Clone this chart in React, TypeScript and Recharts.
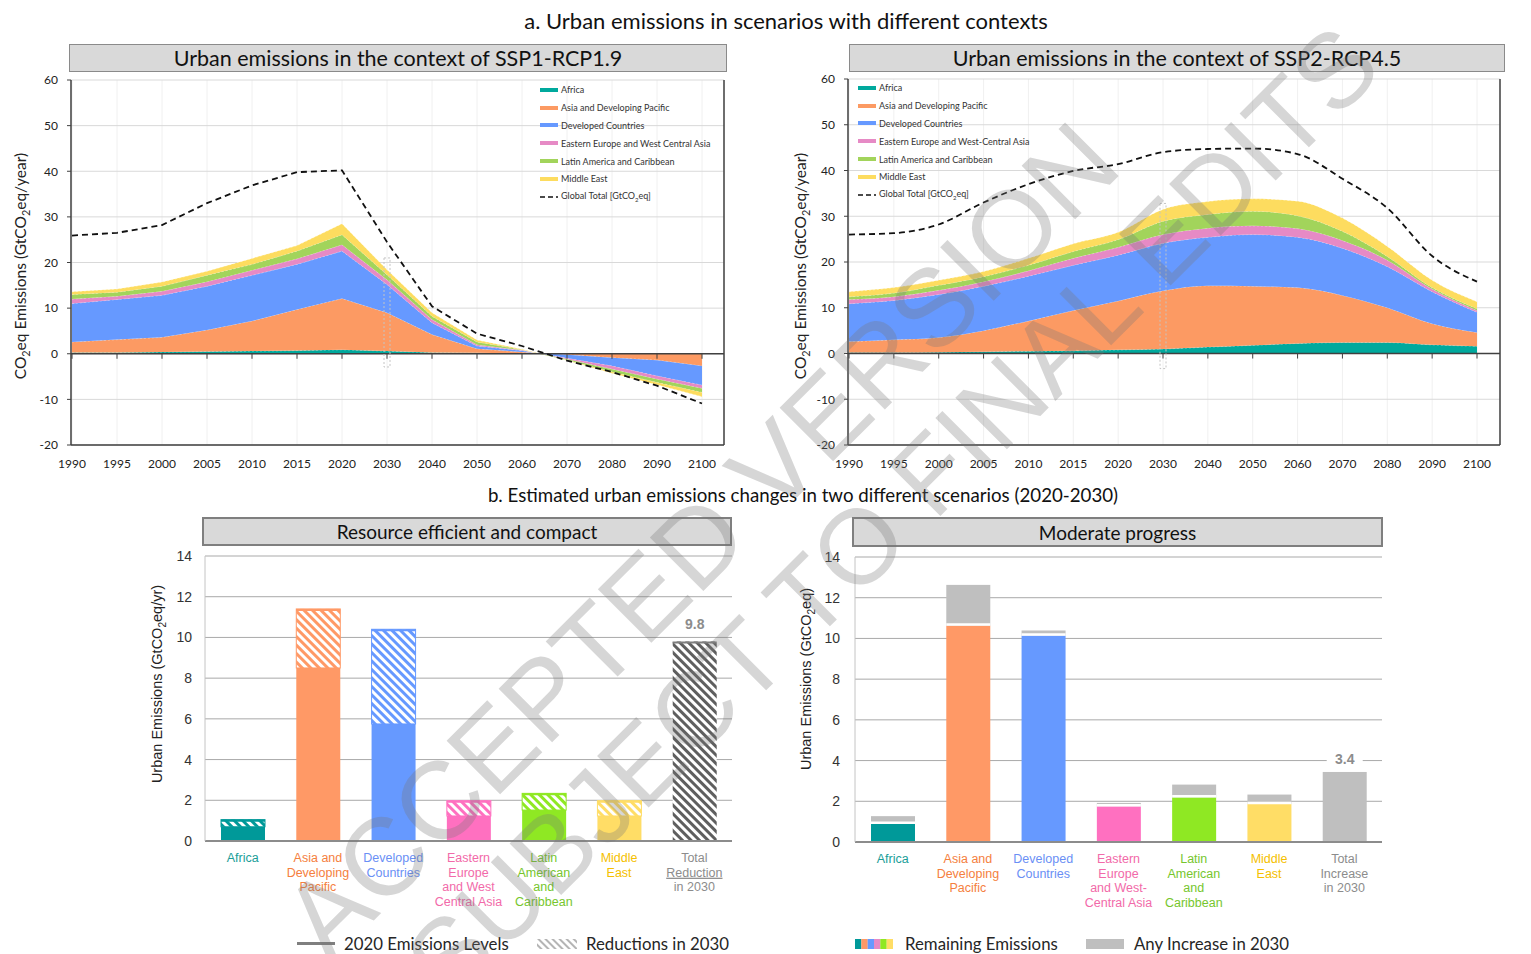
import React from 'react';
import {
  ComposedChart, Area, Line, BarChart, Bar, Cell, LabelList, XAxis, YAxis,
  CartesianGrid, ReferenceLine, Legend,
} from 'recharts';

const CAL = "Lato, 'Open Sans', sans-serif";
const ARIAL = "'Liberation Sans', Arial, sans-serif";

// ---- part a: stacked urban emissions (GtCO2eq/year) ----
const years = ['1990', '1995', '2000', '2005', '2010', '2015', '2020', '2030', '2040', '2050', '2060', '2070', '2080', '2090', '2100'];
const yTicksTop = [-20, -10, 0, 10, 20, 30, 40, 50, 60];

const ssp1Africa = [0.3, 0.3, 0.4, 0.5, 0.6, 0.7, 0.9, 0.6, 0.3, 0.2, 0.1, 0, 0, 0, 0];
const ssp1Asia = [2.3, 2.8, 3.2, 4.7, 6.6, 9.0, 11.2, 8.4, 3.9, 0.9, 0.3, -0.2, -0.9, -1.4, -2.7];
const ssp1Developed = [8.4, 8.8, 9.2, 9.6, 10.0, 9.9, 10.4, 6.2, 2.6, 0.6, 0.3, -0.8, -1.8, -3.5, -4.2];
const ssp1Eastern = [1.0, 0.7, 0.9, 1.0, 1.1, 1.2, 1.4, 1.0, 0.7, 0.3, 0.1, -0.2, -0.7, -0.7, -0.7];
const ssp1Latin = [1.0, 0.9, 1.1, 1.4, 1.3, 1.7, 2.2, 1.1, 0.7, 0.6, 0.1, -0.2, -0.6, -0.7, -0.9];
const ssp1Middle = [0.6, 0.7, 0.9, 0.9, 1.3, 1.2, 2.4, 1.1, 0.8, 0.4, 0.1, -0.1, -0.3, -0.5, -0.9];
const ssp1Global = [25.9, 26.5, 28.2, 33.0, 36.9, 39.8, 40.2, 24.5, 10.4, 4.4, 1.7, -1.5, -4.0, -7.0, -10.9];

const ssp2Africa = [0.2, 0.2, 0.3, 0.4, 0.5, 0.6, 0.8, 1.0, 1.4, 1.8, 2.2, 2.4, 2.4, 1.9, 1.6];
const ssp2Asia = [2.4, 2.8, 3.2, 4.6, 6.6, 8.8, 10.7, 12.7, 13.4, 12.9, 12.2, 10.3, 7.6, 4.6, 3.0];
const ssp2Developed = [8.3, 8.6, 9.4, 9.7, 9.8, 9.9, 10.0, 10.4, 10.6, 11.3, 11.0, 10.3, 9.0, 7.0, 4.4];
const ssp2Eastern = [0.9, 0.8, 0.9, 1.0, 1.2, 1.5, 1.7, 1.9, 2.0, 1.9, 1.9, 1.7, 1.4, 0.6, 0.4];
const ssp2Latin = [0.6, 0.8, 1.1, 1.1, 1.2, 1.5, 1.7, 2.9, 3.0, 3.2, 2.8, 2.0, 0.8, 0.3, 0.4];
const ssp2Middle = [1.1, 1.2, 1.1, 1.1, 1.5, 1.7, 1.6, 2.6, 2.8, 2.7, 3.2, 2.9, 2.2, 1.6, 1.5];
const ssp2Global = [26.0, 26.3, 28.2, 33.0, 37.0, 39.9, 41.4, 44.0, 44.7, 44.8, 43.6, 38.2, 31.8, 21.3, 15.7];

const regionKeys = ['africa', 'asia', 'developed', 'eastern', 'latin', 'middle'];
const areaColors = ['#00a99d', '#fc9a63', '#6699ff', '#e68ac5', '#a2d45b', '#fddc5f'];
const legendNames1 = ['Africa', 'Asia and Developing Pacific', 'Developed Countries', 'Eastern Europe and West Central Asia', 'Latin America and Caribbean', 'Middle East'];
const legendNames2 = ['Africa', 'Asia and Developing Pacific', 'Developed Countries', 'Eastern Europe and West-Central Asia', 'Latin America and Caribbean', 'Middle East'];

// ---- part b: 2020-2030 changes (GtCO2eq) ----
const barCategories = ['Africa', 'Asia', 'Developed', 'Eastern', 'Latin', 'Middle', 'Total'];
const compactRemaining = [0.7, 8.5, 5.75, 1.23, 1.52, 1.23, 0];
const compactReduction = [0.35, 2.9, 4.65, 0.75, 0.82, 0.75, 9.8];
const moderateRemaining = [0.9, 10.63, 10.15, 1.76, 2.2, 1.87, 0];
const moderateIncrease = [0.37, 2.0, 0.24, 0.16, 0.62, 0.46, 3.44];
const barTicks = [0, 2, 4, 6, 8, 10, 12, 14];

const barColors = ['#009999', '#ff9966', '#6699ff', '#ff70c0', '#8fe823', '#ffdd66', '#bfbfbf'];
const labelColors = ['#1a9e98', '#f5803e', '#6a8ff5', '#f26aa9', '#76c62e', '#f5c000', '#8c8c8c'];
const compactLabels = [
  ['Africa'], ['Asia and', 'Developing', 'Pacific'], ['Developed', 'Countries'],
  ['Eastern', 'Europe', 'and West', 'Central Asia'], ['Latin', 'American', 'and', 'Caribbean'],
  ['Middle', 'East'], ['Total', 'Reduction', 'in 2030'],
];
const moderateLabels = [
  ['Africa'], ['Asia and', 'Developing', 'Pacific'], ['Developed', 'Countries'],
  ['Eastern', 'Europe', 'and West-', 'Central Asia'], ['Latin', 'American', 'and', 'Caribbean'],
  ['Middle', 'East'], ['Total', 'Increase', 'in 2030'],
];

const buildAreaData = (series: number[][], global: number[]) =>
  years.map((year, i) => {
    const row: any = { year, global: global[i] };
    regionKeys.forEach((k, j) => { row[k] = series[j][i]; });
    return row;
  });

const ssp1Data = buildAreaData([ssp1Africa, ssp1Asia, ssp1Developed, ssp1Eastern, ssp1Latin, ssp1Middle], ssp1Global);
const ssp2Data = buildAreaData([ssp2Africa, ssp2Asia, ssp2Developed, ssp2Eastern, ssp2Latin, ssp2Middle], ssp2Global);

const compactData = barCategories.map((cat, i) => ({ cat, remaining: compactRemaining[i], change: compactReduction[i] }));
const moderateData = barCategories.map((cat, i) => ({ cat, remaining: moderateRemaining[i], change: moderateIncrease[i] }));

const AreaLegend = ({ names }: { names: string[] }) => (
  <div style={{ fontFamily: CAL, fontSize: 9, color: '#333', width: 200 }}>
    {names.map((n, j) => (
      <div key={n} style={{ height: 17.8, display: 'flex', alignItems: 'center' }}>
        <span style={{ display: 'inline-block', width: 18, height: 4, background: areaColors[j], marginRight: 3 }} />
        <span>{n}</span>
      </div>
    ))}
    <div style={{ height: 17.8, display: 'flex', alignItems: 'center' }}>
      <svg width={18} height={4} style={{ marginRight: 3 }}>
        <line x1={0} x2={18} y1={2} y2={2} stroke="#111" strokeWidth={1.5} strokeDasharray="5 3" />
      </svg>
      <span>Global Total [GtCO<sub style={{ fontSize: 6 }}>2</sub>eq]</span>
    </div>
  </div>
);

const MarkerBox = (p: any) => (
  <rect x={p.x1 - 3} y={Math.min(p.y1, p.y2)} width={6} height={Math.abs(p.y2 - p.y1)}
    fill="none" stroke="#c4c4c4" strokeWidth={1} strokeDasharray="2 2" />
);

type EmissionsProps = {
  data: any[];
  curve: 'linear' | 'monotone';
  names: string[];
  width: number;
  height: number;
  margin: { top: number; right: number; bottom: number; left: number };
  rightAxisWidth: number;
  padRight: number;
  legendLeft: number;
  legendTop: number;
  marker: [number, number];
};

const EmissionsPanel = ({ data, curve, names, width, height, margin, rightAxisWidth, padRight, legendLeft, legendTop, marker }: EmissionsProps) => (
  <ComposedChart width={width} height={height} data={data} margin={margin} stackOffset="sign">
    <CartesianGrid horizontal={false} stroke="#f0f0f0" />
    <CartesianGrid vertical={false} stroke="#d9d9d9" />
    <XAxis dataKey="year" scale="point" interval={0} padding={{ left: 1, right: padRight }}
      tickLine={false} tickSize={6} tickMargin={8} height={27}
      axisLine={{ stroke: '#404040', strokeWidth: 1.5 }}
      tick={{ fontSize: 12, fill: '#222', fontFamily: CAL }} />
    <YAxis domain={[-20, 60]} ticks={yTicksTop} width={50} tickSize={4} tickMargin={9}
      axisLine={{ stroke: '#404040', strokeWidth: 1.5 }} tickLine={{ stroke: '#404040' }}
      tick={{ fontSize: 12, fill: '#222', fontFamily: CAL }} />
    <YAxis yAxisId="r" orientation="right" domain={[-20, 60]} ticks={yTicksTop} width={rightAxisWidth}
      tickSize={4} tickMargin={4} axisLine={{ stroke: '#404040', strokeWidth: 1.5 }} tickLine={{ stroke: '#404040' }}
      tick={{ fontSize: 12, fill: '#d0d0d0', fontFamily: CAL }} />
    {regionKeys.map((k, j) => (
      <Area key={k} type={curve} dataKey={k} stackId="regions" fill={areaColors[j]} fillOpacity={1}
        stroke="#ffffff" strokeOpacity={0.55} strokeWidth={0.8} strokeDasharray="2 2"
        isAnimationActive={false} />
    ))}
    <ReferenceLine y={0} stroke="#404040" strokeWidth={1.5} />
    {years.map((yr) => (
      <ReferenceLine key={yr} segment={[{ x: yr, y: 0 }, { x: yr, y: -1.1 }]} stroke="#404040" />
    ))}
    <ReferenceLine segment={[{ x: '2030', y: marker[0] }, { x: '2030', y: marker[1] }]} shape={MarkerBox} />
    <Line type={curve} dataKey="global" stroke="#111" strokeWidth={1.8} strokeDasharray="6 4"
      dot={false} isAnimationActive={false} />
    <Legend layout="vertical" align="center" verticalAlign="middle"
      wrapperStyle={{ left: legendLeft, top: legendTop, width: 200 }}
      content={() => <AreaLegend names={names} />} />
  </ComposedChart>
);

const HatchBar = (p: any) => {
  const { x, y, width, height } = p;
  if (!height || height <= 0) return <g />;
  const idx = typeof p.index === 'number' ? p.index : barCategories.indexOf(p.payload?.cat);
  const edge = idx === 6 ? '#7f7f7f' : barColors[idx];
  return (
    <g>
      <rect x={x} y={y} width={width} height={height} fill={`url(#hatch${idx})`}
        stroke={idx === 6 ? 'none' : edge} strokeWidth={1} />
      <line x1={x} x2={x + width} y1={y + 1} y2={y + 1} stroke={edge} strokeWidth={2} />
    </g>
  );
};

const IncreaseBar = (p: any) => {
  const { x, y, width, height } = p;
  if (!height || height <= 0) return <g />;
  const idx = typeof p.index === 'number' ? p.index : barCategories.indexOf(p.payload?.cat);
  return (
    <g>
      <rect x={x} y={y} width={width} height={height} fill="#bfbfbf" />
      {idx !== 6 && <line x1={x} x2={x + width} y1={y + height - 1} y2={y + height - 1} stroke="#ffffff" strokeWidth={2.5} />}
    </g>
  );
};

const makeTick = (labels: string[][]) => (p: any) => {
  const idx = barCategories.indexOf(p.payload.value);
  const rows = labels[idx] || [];
  return (
    <text x={p.x} y={p.y + 21} textAnchor="middle" fontSize={12.5} fontFamily={ARIAL} fill={labelColors[idx]}>
      {rows.map((r, j) => (
        <tspan key={j} x={p.x} dy={j === 0 ? 0 : 14.7}
          style={r === 'Reduction' ? { textDecoration: 'underline' } : undefined}>{r}</tspan>
      ))}
    </text>
  );
};

const makeTotalLabel = (offset: number, boxed: boolean) => (p: any) => {
  if (p.index !== 6) return null;
  const cx = p.x + p.width / 2;
  const cy = p.y - offset;
  return (
    <g>
      {boxed && <rect x={cx - 18} y={cy - 9} width={36} height={18} fill="#ffffff" />}
      <text x={cx} y={cy} dy="0.35em" textAnchor="middle" fontSize={14} fontWeight="bold"
        fontFamily={ARIAL} fill="#8c8c8c">{Number(p.value).toFixed(1)}</text>
    </g>
  );
};

type BarPanelProps = {
  data: any[];
  labels: string[][];
  mode: 'reduction' | 'increase';
  tickMargin: number;
};

const BarPanel = ({ data, labels, mode, tickMargin }: BarPanelProps) => (
  <BarChart width={600} height={365} data={data} margin={{ top: 10, right: 8, bottom: 0, left: 20 }}>
    <CartesianGrid vertical={false} stroke="#a9a9a9" />
    <XAxis dataKey="cat" interval={0} tickLine={false} tickSize={0} tickMargin={0} height={70}
      axisLine={{ stroke: '#8c8c8c', strokeWidth: 2 }} tick={makeTick(labels)} />
    <YAxis domain={[0, 14]} ticks={barTicks} width={45} tickLine={false} tickMargin={tickMargin}
      axisLine={{ stroke: '#c4c4c4' }} tick={{ fontSize: 14, fill: '#333', fontFamily: ARIAL }} />
    <YAxis yAxisId="frame" orientation="right" domain={[0, 14]} width={0} tick={false} tickLine={false}
      axisLine={{ stroke: '#c4c4c4' }} />
    <Bar dataKey="remaining" stackId="s" barSize={44} isAnimationActive={false}>
      {data.map((d, i) => <Cell key={d.cat} fill={barColors[i]} />)}
    </Bar>
    <Bar dataKey="change" stackId="s" barSize={44} isAnimationActive={false}
      shape={mode === 'reduction' ? HatchBar : IncreaseBar}>
      <LabelList dataKey="change" content={makeTotalLabel(mode === 'reduction' ? 17 : 13, mode === 'increase')} />
    </Bar>
  </BarChart>
);

const YTitle = ({ cx, cy, size, font, children }: any) => (
  <div style={{
    position: 'absolute', left: cx, top: cy, transform: 'translate(-50%,-50%) rotate(-90deg)',
    whiteSpace: 'nowrap', fontSize: size, fontFamily: font, color: '#222', lineHeight: '18px',
  }}>{children}</div>
);

const HeaderBox = ({ left, top, width, height, size, border, children }: any) => (
  <div style={{
    position: 'absolute', left, top, width, height, boxSizing: 'border-box', background: '#d9d9d9',
    border, display: 'flex', alignItems: 'center', justifyContent: 'center',
    fontSize: size, fontFamily: CAL, color: '#111', whiteSpace: 'nowrap',
  }}>{children}</div>
);

const Sub2 = () => <sub style={{ fontSize: '0.7em', lineHeight: 0 }}>2</sub>;

export default function App() {
  const legendText = { position: 'absolute' as const, fontSize: 16.8, fontFamily: CAL, color: '#262626', lineHeight: '20px', whiteSpace: 'nowrap' as const };
  return (
    <div style={{ position: 'absolute', left: 0, top: 0, width: 1531, height: 954, background: '#fff', overflow: 'hidden', fontFamily: CAL }}>
      <svg width={0} height={0} style={{ position: 'absolute' }}>
        <defs>
          {barColors.map((c, i) => (
            <pattern key={i} id={`hatch${i}`} patternUnits="userSpaceOnUse" width={6} height={6} patternTransform="rotate(-45)">
              <rect width={6} height={6} fill={i === 6 ? '#ffffff' : c} />
              <rect width={3} height={6} fill={i === 6 ? '#5f5f5f' : '#ffffff'} />
            </pattern>
          ))}
          <pattern id="hatchLegend" patternUnits="userSpaceOnUse" width={5} height={5} patternTransform="rotate(-45)">
            <rect width={5} height={5} fill="#ffffff" />
            <rect width={2} height={5} fill="#b5b5b5" />
          </pattern>
        </defs>
      </svg>

      <div style={{ position: 'absolute', left: 286, top: 8, width: 1000, textAlign: 'center', fontSize: 22, lineHeight: '26px', color: '#111' }}>
        a. Urban emissions in scenarios with different contexts
      </div>

      <HeaderBox left={69} top={44} width={658} height={28} size={21.5} border="1px solid #8a8a8a">
        Urban emissions in the context of SSP1-RCP1.9
      </HeaderBox>
      <HeaderBox left={849} top={44} width={656} height={28} size={21.5} border="1px solid #8a8a8a">
        Urban emissions in the context of SSP2-RCP4.5
      </HeaderBox>

      <div style={{ position: 'absolute', left: 0, top: 72 }}>
        <EmissionsPanel data={ssp1Data} curve="linear" names={legendNames1} width={780} height={400}
          margin={{ top: 8, right: 16, bottom: 0, left: 21 }} rightAxisWidth={40} padRight={22}
          legendLeft={540} legendTop={9} marker={[-2.9, 21]} />
      </div>
      <div style={{ position: 'absolute', left: 778, top: 71 }}>
        <EmissionsPanel data={ssp2Data} curve="monotone" names={legendNames2} width={753} height={401}
          margin={{ top: 8, right: 6, bottom: 0, left: 20 }} rightAxisWidth={25} padRight={23}
          legendLeft={80} legendTop={8} marker={[-3.3, 32.8]} />
      </div>

      <YTitle cx={20} cy={266} size={15.5} font={CAL}>CO<Sub2 />eq Emissions (GtCO<Sub2 />eq/year)</YTitle>
      <YTitle cx={800} cy={266} size={15.5} font={CAL}>CO<Sub2 />eq Emissions (GtCO<Sub2 />eq/year)</YTitle>

      <div style={{ position: 'absolute', left: 303, top: 482, width: 1000, textAlign: 'center', fontSize: 18.7, lineHeight: '26px', color: '#111' }}>
        b. Estimated urban emissions changes in two different scenarios (2020-2030)
      </div>

      <HeaderBox left={202} top={517} width={530} height={29} size={19} border="2px solid #7f7f7f">
        Resource efficient and compact
      </HeaderBox>
      <HeaderBox left={852} top={517} width={531} height={30} size={19} border="2px solid #7f7f7f">
        Moderate progress
      </HeaderBox>

      <div style={{ position: 'absolute', left: 140, top: 546 }}>
        <BarPanel data={compactData} labels={compactLabels} mode="reduction" tickMargin={7} />
      </div>
      <div style={{ position: 'absolute', left: 790, top: 547 }}>
        <BarPanel data={moderateData} labels={moderateLabels} mode="increase" tickMargin={9} />
      </div>

      <YTitle cx={157} cy={684} size={14.5} font={ARIAL}>Urban Emissions (GtCO<Sub2 />eq/yr)</YTitle>
      <YTitle cx={806} cy={679} size={14.5} font={ARIAL}>Urban Emissions (GtCO<Sub2 />eq)</YTitle>

      {/* bottom legends */}
      <div style={{ position: 'absolute', left: 297, top: 942, width: 38, height: 3, background: '#7f7f7f' }} />
      <div style={{ ...legendText, left: 344, top: 934 }}>2020 Emissions Levels</div>
      <svg width={40} height={10} style={{ position: 'absolute', left: 537, top: 939 }}>
        <rect width={40} height={10} fill="url(#hatchLegend)" />
      </svg>
      <div style={{ ...legendText, left: 586, top: 934 }}>Reductions in 2030</div>

      <svg width={38} height={10} style={{ position: 'absolute', left: 855, top: 939 }}>
        {barColors.slice(0, 6).map((c, i) => <rect key={c} x={i * 6.33} width={6.4} height={10} fill={i === 3 ? '#e68ac5' : c} />)}
      </svg>
      <div style={{ ...legendText, left: 905, top: 934 }}>Remaining Emissions</div>
      <div style={{ position: 'absolute', left: 1086, top: 939, width: 38, height: 10, background: '#bfbfbf' }} />
      <div style={{ ...legendText, left: 1134, top: 934 }}>Any Increase in 2030</div>

      {/* watermark */}
      <svg width={1531} height={954} style={{ position: 'absolute', left: 0, top: 0, pointerEvents: 'none' }}>
        <g fontFamily={ARIAL} fill="rgba(120,120,120,0.3)" textAnchor="middle" dominantBaseline="central">
          <text fontSize={110} transform="translate(700 540) rotate(-45)">ACCEPTED VERSION</text>
          <text fontSize={106} transform="translate(892 512) rotate(-45)">SUBJECT TO FINAL EDITS</text>
        </g>
      </svg>
    </div>
  );
}
